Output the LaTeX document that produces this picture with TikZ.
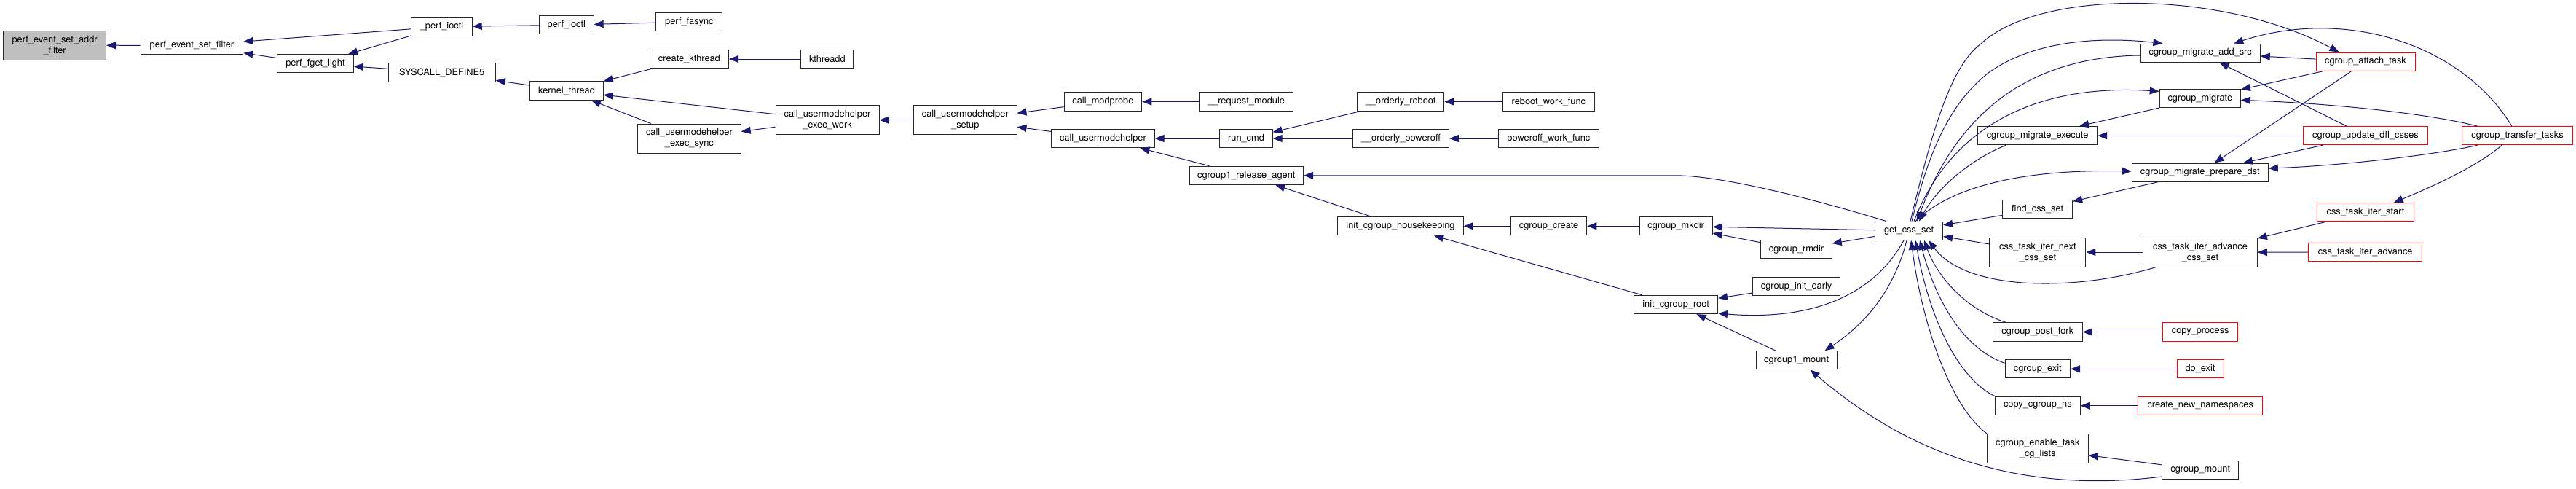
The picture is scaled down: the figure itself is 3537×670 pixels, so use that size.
\documentclass[tikz,border=0pt]{standalone}
\usepackage{fontspec}
\setmainfont{TeX Gyre Heros}
\usepackage{xcolor}
\definecolor{edgeblue}{RGB}{ 25,  25, 112}
\definecolor{rootgrey}{RGB}{191, 191, 191}
\definecolor{cutred}{RGB}{255,   0,   0}
\usepackage{tikz}
\usetikzlibrary{arrows.meta}

\begin{document}
\begin{tikzpicture}[x=1pt, y=-1pt]

  \tikzstyle{fnbox} = [
    draw=black!85, line width=1pt,
    minimum height=25.3pt, inner sep=0pt,
    align=center,
    font=\fontsize{12.8}{15}\selectfont
  ]
  \tikzstyle{twoline} = [minimum height=40pt]
  \tikzstyle{cutbox} = [draw=cutred]
  \tikzstyle{callline} = [
    draw=edgeblue, line width=1pt,
    -{Triangle[length=13pt, width=10pt]}
  ]

  \useasboundingbox (0,0) rectangle (3537,670);

  \node[fnbox, twoline, fill=rootgrey, minimum width=140.8pt] (addrfilter) at (75.1,62.2)
    {perf\_event\_set\_addr\\\_filter};
  \node[fnbox, minimum width=140.7pt] (setfilter) at (263.4,62.3) {perf\_event\_set\_filter};
  \node[fnbox, minimum width=104.4pt] (fgetlight) at (433,87.3) {perf\_fget\_light};
  \node[fnbox, minimum width=83.5pt] (perfioctlint) at (606.5,36.7) {\_perf\_ioctl};
  \node[fnbox, minimum width=147.3pt] (syscalldef) at (606.7,99.5) {SYSCALL\_DEFINE5};
  \node[fnbox, minimum width=74.7pt] (perfioctl) at (777.8,34.3) {perf\_ioctl};
  \node[fnbox, minimum width=91pt] (perffasync) at (946.4,30) {perf\_fasync};
  \node[fnbox, minimum width=100.5pt] (kernelthread) at (778,124.5) {kernel\_thread};
  \node[fnbox, minimum width=108.3pt] (createkthread) at (946.4,81) {create\_kthread};
  \node[fnbox, minimum width=72pt] (kthreadd) at (1135.8,81) {kthreadd};
  \node[fnbox, twoline, minimum width=142pt] (execwork) at (1136,164.7)
    {call\_usermodehelper\\\_exec\_work};
  \node[fnbox, twoline, minimum width=141.6pt] (execsync) at (946.4,190)
    {call\_usermodehelper\\\_exec\_sync};
  \node[fnbox, twoline, minimum width=141.4pt] (umhsetup) at (1325.3,164.7)
    {call\_usermodehelper\\\_setup};
  \node[fnbox, minimum width=106.7pt] (modprobe) at (1514.4,139.5) {call\_modprobe};
  \node[fnbox, minimum width=128.5pt] (requestmodule) at (1711,139.5) {\_\_request\_module};
  \node[fnbox, minimum width=141.5pt] (callumh) at (1514.4,190) {call\_usermodehelper};
  \node[fnbox, minimum width=72.3pt] (runcmd) at (1711,190) {run\_cmd};
  \node[fnbox, minimum width=156.6pt] (releaseagent) at (1711.3,240.8) {cgroup1\_release\_agent};
  \node[fnbox, minimum width=119pt] (orderlyreboot) at (1923.2,139.5) {\_\_orderly\_reboot};
  \node[fnbox, minimum width=125.3pt] (rebootwork) at (2126.4,139.5) {reboot\_work\_func};
  \node[fnbox, minimum width=132.1pt] (orderlypoweroff) at (1923.4,190) {\_\_orderly\_poweroff};
  \node[fnbox, minimum width=138.8pt] (poweroffwork) at (2126.4,190) {poweroff\_work\_func};
  \node[fnbox, minimum width=172.4pt] (housekeeping) at (1923,310.3) {init\_cgroup\_housekeeping};
  \node[fnbox, minimum width=104.4pt] (cgcreate) at (2126.6,310.3) {cgroup\_create};
  \node[fnbox, minimum width=100pt] (cgmkdir) at (2301.2,310.3) {cgroup\_mkdir};
  \node[fnbox, minimum width=97.3pt] (cgrmdir) at (2466.5,342.2) {cgroup\_rmdir};
  \node[fnbox, minimum width=114.8pt] (cgroot) at (2301.1,418) {init\_cgroup\_root};
  \node[fnbox, minimum width=120.2pt] (initearly) at (2466.5,392.8) {cgroup\_init\_early};
  \node[fnbox, minimum width=111.2pt] (cg1mount) at (2466.6,494.3) {cgroup1\_mount};
  \node[fnbox, minimum width=93.3pt] (getcssset) at (2621,316.7) {get\_css\_set};
  \node[fnbox, minimum width=164.1pt] (addsrc) at (3021.2,72.7) {cgroup\_migrate\_add\_src};
  \node[fnbox, minimum width=111.2pt] (cgmigrate) at (3020.8,135.3) {cgroup\_migrate};
  \node[fnbox, minimum width=164.1pt] (migexecute) at (2797.6,186.2) {cgroup\_migrate\_execute};
  \node[fnbox, minimum width=187pt] (preparedst) at (3020.8,236.7) {cgroup\_migrate\_prepare\_dst};
  \node[fnbox, minimum width=96.1pt] (findcssset) at (2797.6,287.3) {find\_css\_set};
  \node[fnbox, twoline, minimum width=132.1pt] (iternext) at (2797.9,346)
    {css\_task\_iter\_next\\\_css\_set};
  \node[fnbox, minimum width=122.6pt] (postfork) at (2797.8,455.5) {cgroup\_post\_fork};
  \node[fnbox, minimum width=89.5pt] (cgexit) at (2797.8,506.3) {cgroup\_exit};
  \node[fnbox, minimum width=117pt] (copyns) at (2797.8,556.7) {copy\_cgroup\_ns};
  \node[fnbox, twoline, minimum width=138.4pt] (enabletask) at (2797.8,615.5)
    {cgroup\_enable\_task\\\_cg\_lists};
  \node[fnbox, cutbox, minimum width=136pt] (attachtask) at (3248,84.7) {cgroup\_attach\_task};
  \node[fnbox, cutbox, minimum width=170.9pt] (updatedfl) at (3248,186.2) {cgroup\_update\_dfl\_csses};
  \node[fnbox, cutbox, minimum width=151.5pt] (transfertasks) at (3456.5,186.2) {cgroup\_transfer\_tasks};
  \node[fnbox, cutbox, minimum width=133.8pt] (iterstart) at (3248,291.2) {css\_task\_iter\_start};
  \node[fnbox, twoline, minimum width=156.6pt] (iteradvcss) at (3021,346)
    {css\_task\_iter\_advance\\\_css\_set};
  \node[fnbox, cutbox, minimum width=156.6pt] (iteradvance) at (3247.6,346.3) {css\_task\_iter\_advance};
  \node[fnbox, cutbox, minimum width=103.2pt] (copyprocess) at (3021.2,455.5) {copy\_process};
  \node[fnbox, cutbox, minimum width=64pt] (doexit) at (3021,506.3) {do\_exit};
  \node[fnbox, cutbox, minimum width=171.2pt] (newnamespaces) at (3021.2,556.7) {create\_new\_namespaces};
  \node[fnbox, minimum width=104.8pt] (cgmount) at (3021.2,644.8) {cgroup\_mount};

  \draw[callline] (setfilter) -- (addrfilter);
  \draw[callline] (perfioctlint) -- (setfilter);
  \draw[callline] (fgetlight) -- (setfilter);
  \draw[callline] (perfioctlint) -- (fgetlight);
  \draw[callline] (syscalldef) -- (fgetlight);
  \draw[callline] (perfioctl) -- (perfioctlint);
  \draw[callline] (perffasync) -- (perfioctl);
  \draw[callline] (kernelthread) -- (syscalldef);
  \draw[callline] (createkthread) -- (kernelthread);
  \draw[callline] (execwork) -- (kernelthread);
  \draw[callline] (execsync) -- (kernelthread);
  \draw[callline] (kthreadd) -- (createkthread);
  \draw[callline] (execwork) -- (execsync);
  \draw[callline] (umhsetup) -- (execwork);
  \draw[callline] (modprobe) -- (umhsetup);
  \draw[callline] (callumh) -- (umhsetup);
  \draw[callline] (requestmodule) -- (modprobe);
  \draw[callline] (runcmd) -- (callumh);
  \draw[callline] (releaseagent) -- (callumh);
  \draw[callline] (orderlyreboot) -- (runcmd);
  \draw[callline] (orderlypoweroff) -- (runcmd);
  \draw[callline] (rebootwork) -- (orderlyreboot);
  \draw[callline] (poweroffwork) -- (orderlypoweroff);
  \draw[callline] (housekeeping) -- (releaseagent);
  \draw[callline] (cgcreate) -- (housekeeping);
  \draw[callline] (cgroot) -- (housekeeping);
  \draw[callline] (cgmkdir) -- (cgcreate);
  \draw[callline] (getcssset) -- (cgmkdir);
  \draw[callline] (cgrmdir) -- (cgmkdir);
  \draw[callline] (getcssset) -- (cgrmdir);
  \draw[callline] (initearly) -- (cgroot);
  \draw[callline] (cg1mount) -- (cgroot);
  \draw[callline] (findcssset) -- (getcssset);
  \draw[callline] (iternext) -- (getcssset);
  \draw[callline] (preparedst) -- (findcssset);
  \draw[callline] (cgmigrate) -- (migexecute);
  \draw[callline] (updatedfl) -- (migexecute);
  \draw[callline] (attachtask) -- (addsrc);
  \draw[callline] (updatedfl) -- (addsrc);
  \draw[callline] (attachtask) -- (cgmigrate);
  \draw[callline] (attachtask) -- (preparedst);
  \draw[callline] (updatedfl) -- (preparedst);
  \draw[callline] (iterstart) -- (iteradvcss);
  \draw[callline] (iteradvance) -- (iteradvcss);
  \draw[callline] (iteradvcss) -- (iternext);
  \draw[callline] (copyprocess) -- (postfork);
  \draw[callline] (doexit) -- (cgexit);
  \draw[callline] (newnamespaces) -- (copyns);
  \draw[callline] (cgmount) -- (enabletask);

  \draw[callline] ([xshift=2pt]getcssset.north) .. controls (2655,170) and (2680,90) .. (2720,60)
    .. controls (2800,-15) and (3050,-15) .. ([xshift=-36.4pt]attachtask.north);
  \draw[callline] ([xshift=4pt]getcssset.north) .. controls (2650,200) and (2680,140) .. (2730,100)
    .. controls (2800,50) and (2900,52) .. ([xshift=-51.8pt]addsrc.north);
  \draw[callline] ([yshift=-3.3pt]addsrc.west) .. controls (2790,78) and (2690,150) .. ([xshift=11pt]getcssset.north);
  \draw[callline] ([xshift=7pt]getcssset.north) .. controls (2680,170) and (2800,115) .. ([yshift=10pt]cgmigrate.west);
  \draw[callline] ([xshift=-43.6pt]migexecute.south) .. controls (2715,215) and (2665,250) .. ([xshift=14pt]getcssset.north);
  \draw[callline] ([xshift=9pt]getcssset.north) .. controls (2680,255) and (2780,232) .. ([yshift=1.7pt]preparedst.west);
  \draw[callline] ([xshift=-31pt]getcssset.north) .. controls (2480,270) and (2360,240.8) .. (2300,240.8)
    -- (releaseagent.east);
  \draw[callline] ([xshift=-7pt]getcssset.south) .. controls (2570,410) and (2480,440) .. ([yshift=-12pt]cgroot.east);
  \draw[callline] ([xshift=-3pt]getcssset.south) .. controls (2600,400) and (2560,445) .. ([xshift=39pt]cg1mount.north);
  \draw[callline] ([yshift=-9.2pt]cgmount.west) .. controls (2800,675) and (2640,640) .. ([xshift=19pt]cg1mount.south);
  \draw[callline] ([xshift=-43.8pt]postfork.north) .. controls (2700,425) and (2660,380) .. ([xshift=21pt]getcssset.south);
  \draw[callline] ([yshift=8pt]cgexit.west) .. controls (2700,480) and (2660,420) .. ([xshift=15pt]getcssset.south);
  \draw[callline] (copyns.north west) .. controls (2690,520) and (2650,440) .. ([xshift=9pt]getcssset.south);
  \draw[callline] (enabletask.north west) .. controls (2680,560) and (2640,450) .. ([xshift=3pt]getcssset.south);
  \draw[callline] ([xshift=-60.5pt]iteradvcss.south) .. controls (2850,400) and (2700,400) .. ([xshift=27pt]getcssset.south);
  \draw[callline] ([xshift=-7.7pt]transfertasks.north) .. controls (3380,60) and (3220,10) .. ([xshift=46pt]addsrc.north);
  \draw[callline] ([xshift=-55pt]transfertasks.north) .. controls (3330,155) and (3200,142) .. ([yshift=-2pt]cgmigrate.east);
  \draw[callline] ([xshift=-55pt]transfertasks.south) .. controls (3330,215) and (3200,228) .. ([yshift=5.7pt]preparedst.east);
  \draw[callline] ([xshift=-21.5pt]transfertasks.south) .. controls (3400,230) and (3330,260) .. ([xshift=38.7pt]iterstart.north);

\end{tikzpicture}
\end{document}
